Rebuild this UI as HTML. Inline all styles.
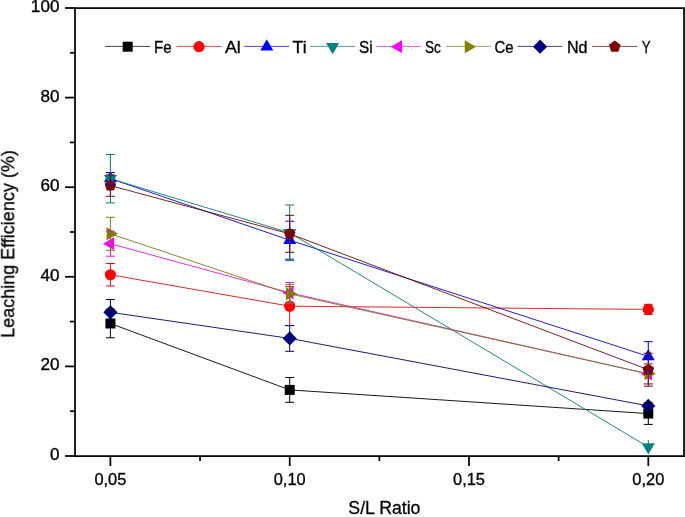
<!DOCTYPE html>
<html><head><meta charset="utf-8"><style>
html,body{margin:0;padding:0;background:#fff;}
svg{display:block;}
.t{font-family:"Liberation Sans",sans-serif;font-size:16px;fill:#000;stroke:#000;stroke-width:0.35px;}
.tx{font-family:"Liberation Sans",sans-serif;font-size:16.4px;fill:#000;stroke:#000;stroke-width:0.35px;}
.tt{font-family:"Liberation Sans",sans-serif;font-size:17.5px;fill:#000;stroke:#000;stroke-width:0.3px;}
</style></head><body>
<svg width="685" height="517" viewBox="0 0 685 517">
<rect width="685" height="517" fill="#fff"/>

<polyline points="110.4,323.5 289.7,389.9 648.3,413.6" stroke="#000000" stroke-width="0.9" fill="none"/>
<polyline points="110.4,274.75 289.7,306.2 648.3,309.4" stroke="#d21313" stroke-width="0.9" fill="none"/>
<polyline points="110.4,178.6 289.7,240.2 648.3,356.4" stroke="#0707c6" stroke-width="0.9" fill="none"/>
<polyline points="110.4,178.7 289.7,232.8 648.3,447" stroke="#167676" stroke-width="0.9" fill="none"/>
<polyline points="110.4,243.7 289.7,292.8 648.3,373.9" stroke="#da1ada" stroke-width="0.9" fill="none"/>
<polyline points="110.4,233.8 289.7,293.85 648.3,373.8" stroke="#7c7c1c" stroke-width="0.9" fill="none"/>
<polyline points="110.4,312.3 289.7,338.4 648.3,405.9" stroke="#040464" stroke-width="0.9" fill="none"/>
<polyline points="110.4,185.6 289.7,233.8 648.3,369.7" stroke="#6a0a0a" stroke-width="0.9" fill="none"/>
<rect x="105.4" y="318.5" width="10" height="10" fill="#000000"/>
<rect x="284.7" y="384.9" width="10" height="10" fill="#000000"/>
<rect x="643.3" y="408.6" width="10" height="10" fill="#000000"/>
<circle cx="110.4" cy="274.75" r="5.6" fill="#ff0000"/>
<circle cx="289.7" cy="306.2" r="5.6" fill="#ff0000"/>
<circle cx="648.3" cy="309.4" r="5.6" fill="#ff0000"/>
<polygon points="110.4,171.09 103.9,182.35 116.9,182.35" fill="#0000ff"/>
<polygon points="289.7,232.69 283.2,243.95 296.2,243.95" fill="#0000ff"/>
<polygon points="648.3,348.89 641.8,360.15 654.8,360.15" fill="#0000ff"/>
<polygon points="110.4,186.21 103.9,174.95 116.9,174.95" fill="#008080"/>
<polygon points="289.7,240.31 283.2,229.05 296.2,229.05" fill="#008080"/>
<polygon points="648.3,454.51 641.8,443.25 654.8,443.25" fill="#008080"/>
<polygon points="102.89,243.7 114.15,237.2 114.15,250.2" fill="#ff00ff"/>
<polygon points="282.19,292.8 293.45,286.3 293.45,299.3" fill="#ff00ff"/>
<polygon points="640.79,373.9 652.05,367.4 652.05,380.4" fill="#ff00ff"/>
<polygon points="117.91,233.8 106.65,227.3 106.65,240.3" fill="#808000"/>
<polygon points="297.21,293.85 285.95,287.35 285.95,300.35" fill="#808000"/>
<polygon points="655.81,373.8 644.55,367.3 644.55,380.3" fill="#808000"/>
<polygon points="110.4,305.2 117.5,312.3 110.4,319.4 103.3,312.3" fill="#000080"/>
<polygon points="289.7,331.3 296.8,338.4 289.7,345.5 282.6,338.4" fill="#000080"/>
<polygon points="648.3,398.8 655.4,405.9 648.3,413 641.2,405.9" fill="#000080"/>
<polygon points="110.4,179.5 116.2,183.71 113.99,190.54 106.81,190.54 104.6,183.71" fill="#800000"/>
<polygon points="289.7,227.7 295.5,231.91 293.29,238.74 286.11,238.74 283.9,231.91" fill="#800000"/>
<polygon points="648.3,363.6 654.1,367.81 651.89,374.64 644.71,374.64 642.5,367.81" fill="#800000"/>
<path d="M110.4 309.2V337.8M105.9 309.2H114.9M105.9 337.8H114.9" stroke="#000000" stroke-width="1" fill="none"/>
<path d="M289.7 377.5V402.3M285.2 377.5H294.2M285.2 402.3H294.2" stroke="#000000" stroke-width="1" fill="none"/>
<path d="M648.3 402.8V424.4M643.8 402.8H652.8M643.8 424.4H652.8" stroke="#000000" stroke-width="1" fill="none"/>
<path d="M110.4 263.5V286M105.9 263.5H114.9M105.9 286H114.9" stroke="#d21313" stroke-width="1" fill="none"/>
<path d="M289.7 286.7V325.7M285.2 286.7H294.2M285.2 325.7H294.2" stroke="#d21313" stroke-width="1" fill="none"/>
<path d="M648.3 304.3V314.5M643.8 304.3H652.8M643.8 314.5H652.8" stroke="#d21313" stroke-width="1" fill="none"/>
<path d="M110.4 172.5V184.7M105.9 172.5H114.9M105.9 184.7H114.9" stroke="#0707c6" stroke-width="1" fill="none"/>
<path d="M289.7 221.2V259.2M285.2 221.2H294.2M285.2 259.2H294.2" stroke="#0707c6" stroke-width="1" fill="none"/>
<path d="M648.3 341.7V371.1M643.8 341.7H652.8M643.8 371.1H652.8" stroke="#0707c6" stroke-width="1" fill="none"/>
<path d="M110.4 154.5V202.9M105.9 154.5H114.9M105.9 202.9H114.9" stroke="#167676" stroke-width="1" fill="none"/>
<path d="M289.7 205V260.6M285.2 205H294.2M285.2 260.6H294.2" stroke="#167676" stroke-width="1" fill="none"/>
<path d="M648.3 439.8V444" stroke="#167676" stroke-width="1" fill="none"/>
<path d="M110.4 231.2V256.2M105.9 231.2H114.9M105.9 256.2H114.9" stroke="#da1ada" stroke-width="1" fill="none"/>
<path d="M289.7 282.6V303M285.2 282.6H294.2M285.2 303H294.2" stroke="#da1ada" stroke-width="1" fill="none"/>
<path d="M648.3 363.8V384M643.8 363.8H652.8M643.8 384H652.8" stroke="#da1ada" stroke-width="1" fill="none"/>
<path d="M110.4 217.3V250.3M105.9 217.3H114.9M105.9 250.3H114.9" stroke="#7c7c1c" stroke-width="1" fill="none"/>
<path d="M289.7 284.65V303.05M285.2 284.65H294.2M285.2 303.05H294.2" stroke="#7c7c1c" stroke-width="1" fill="none"/>
<path d="M648.3 363.8V383.8M643.8 363.8H652.8M643.8 383.8H652.8" stroke="#7c7c1c" stroke-width="1" fill="none"/>
<path d="M110.4 299.5V325.1M105.9 299.5H114.9M105.9 325.1H114.9" stroke="#040464" stroke-width="1" fill="none"/>
<path d="M289.7 325.5V351.3M285.2 325.5H294.2M285.2 351.3H294.2" stroke="#040464" stroke-width="1" fill="none"/>
<path d="M110.4 174.9V196.3M105.9 174.9H114.9M105.9 196.3H114.9" stroke="#6a0a0a" stroke-width="1" fill="none"/>
<path d="M289.7 215.3V252.3M285.2 215.3H294.2M285.2 252.3H294.2" stroke="#6a0a0a" stroke-width="1" fill="none"/>
<path d="M648.3 353.2V386.2M643.8 353.2H652.8M643.8 386.2H652.8" stroke="#6a0a0a" stroke-width="1" fill="none"/>
<g opacity="0.995">
<path d="M75 8H684V456H75Z" stroke="#000" stroke-width="1.75" fill="none"/>
<path d="M65 456H75" stroke="#000" stroke-width="1.75"/>
<text transform="translate(59.4,460) scale(1.07,1)" class="t" text-anchor="end">0</text>
<path d="M70 411.2H75" stroke="#000" stroke-width="1.75"/>
<path d="M65 366.4H75" stroke="#000" stroke-width="1.75"/>
<text transform="translate(59.4,370.4) scale(1.07,1)" class="t" text-anchor="end">20</text>
<path d="M70 321.6H75" stroke="#000" stroke-width="1.75"/>
<path d="M65 276.8H75" stroke="#000" stroke-width="1.75"/>
<text transform="translate(59.4,280.8) scale(1.07,1)" class="t" text-anchor="end">40</text>
<path d="M70 232H75" stroke="#000" stroke-width="1.75"/>
<path d="M65 187.2H75" stroke="#000" stroke-width="1.75"/>
<text transform="translate(59.4,191.2) scale(1.07,1)" class="t" text-anchor="end">60</text>
<path d="M70 142.4H75" stroke="#000" stroke-width="1.75"/>
<path d="M65 97.6H75" stroke="#000" stroke-width="1.75"/>
<text transform="translate(59.4,101.6) scale(1.07,1)" class="t" text-anchor="end">80</text>
<path d="M70 52.8H75" stroke="#000" stroke-width="1.75"/>
<path d="M65 8H75" stroke="#000" stroke-width="1.75"/>
<text transform="translate(59.4,12) scale(1.07,1)" class="t" text-anchor="end">100</text>
<path d="M110.4 456V466" stroke="#000" stroke-width="1.75"/>
<text x="110.4" y="484.7" class="tx" text-anchor="middle">0,05</text>
<path d="M200.05 456V461" stroke="#000" stroke-width="1.75"/>
<path d="M289.7 456V466" stroke="#000" stroke-width="1.75"/>
<text x="289.7" y="484.7" class="tx" text-anchor="middle">0,10</text>
<path d="M379.35 456V461" stroke="#000" stroke-width="1.75"/>
<path d="M469 456V466" stroke="#000" stroke-width="1.75"/>
<text x="469" y="484.7" class="tx" text-anchor="middle">0,15</text>
<path d="M558.65 456V461" stroke="#000" stroke-width="1.75"/>
<path d="M648.3 456V466" stroke="#000" stroke-width="1.75"/>
<text x="648.3" y="484.7" class="tx" text-anchor="middle">0,20</text>
<text x="384.4" y="513.6" class="tt" text-anchor="middle" style="font-size:17.7px">S/L Ratio</text>
<text transform="translate(14.2,244.1) rotate(-90)" class="tt" style="font-size:18px" text-anchor="middle">Leaching Efficiency (%)</text>
<path d="M105.1 46.4H150.1" stroke="#000000" stroke-width="0.75"/>
<rect x="122.7" y="41.7" width="10" height="10" fill="#000000"/>
<text transform="translate(153.98,52.8) scale(0.941,1)" class="t">Fe</text>
<path d="M176.4 46.4H221.4" stroke="#d21313" stroke-width="0.75"/>
<circle cx="199" cy="46.7" r="5.6" fill="#ff0000"/>
<text transform="translate(224.89,52.8) scale(1.115,1)" class="t">Al</text>
<path d="M244.2 46.4H289.2" stroke="#0707c6" stroke-width="0.75"/>
<polygon points="266.8,39.19 260.3,50.45 273.3,50.45" fill="#0000ff"/>
<text transform="translate(292.57,52.8) scale(1.1,1)" class="t">Ti</text>
<path d="M310 46.4H355" stroke="#167676" stroke-width="0.75"/>
<polygon points="332.6,54.21 326.1,42.95 339.1,42.95" fill="#008080"/>
<text transform="translate(359.12,52.8) scale(0.954,1)" class="t">Si</text>
<path d="M375.8 46.4H420.8" stroke="#da1ada" stroke-width="0.75"/>
<polygon points="390.89,46.7 402.15,40.2 402.15,53.2" fill="#ff00ff"/>
<text transform="translate(425.01,52.8) scale(0.844,1)" class="t">Sc</text>
<path d="M445.9 46.4H490.9" stroke="#7c7c1c" stroke-width="0.75"/>
<polygon points="476.01,46.7 464.75,40.2 464.75,53.2" fill="#808000"/>
<text transform="translate(494.45,52.8) scale(0.93,1)" class="t">Ce</text>
<path d="M517.5 46.4H562.5" stroke="#040464" stroke-width="0.75"/>
<polygon points="540.1,39.6 547.2,46.7 540.1,53.8 533,46.7" fill="#000080"/>
<text transform="translate(566.99,52.8) scale(1.005,1)" class="t">Nd</text>
<path d="M592.2 46.4H637.2" stroke="#6a0a0a" stroke-width="0.75"/>
<polygon points="614.8,40.6 620.6,44.81 618.39,51.64 611.21,51.64 609,44.81" fill="#800000"/>
<text transform="translate(641.65,52.8) scale(0.83,1)" class="t">Y</text>
</g>
</svg>
</body></html>
